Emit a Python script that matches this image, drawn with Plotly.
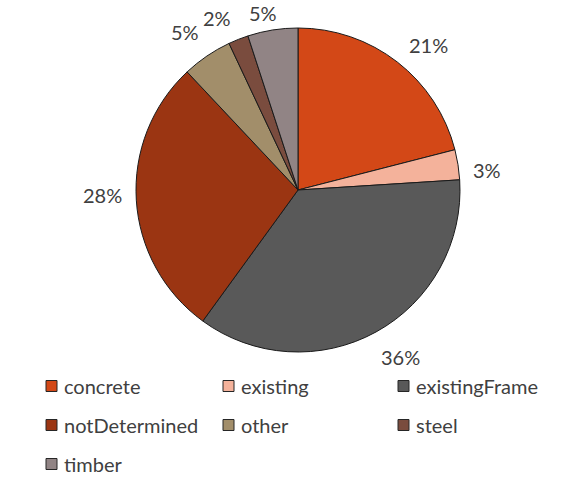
import math
import plotly.graph_objects as go

# Share of floor area by structural system (percent)
categories = ["concrete", "existing", "existingFrame", "notDetermined", "other", "steel", "timber"]
shares = [21, 3, 36, 28, 5, 2, 5]
colors = ["#D34817", "#F4B29B", "#595959", "#9B3512", "#A28E6A", "#7A4C3E", "#918485"]

# Label placement tweaks (degrees of rotation, radius in px) so small slices don't collide
label_shift_deg = [4.1, 3.0, -2.6, 2.1, -1.4, -3.6, -2.2]
label_radius = [195, 190, 196, 196, 194, 190, 180]

W, H = 563, 481
cx, cy, r = 298, 190, 162          # pie centre and radius in pixels
font_family = "Lato, 'Open Sans', sans-serif"
text_color = "#404040"
font_size = 20

fig = go.Figure(
    go.Pie(
        labels=categories,
        values=shares,
        sort=False,
        direction="clockwise",
        rotation=0,
        marker=dict(colors=colors, line=dict(color="#1a1a1a", width=1)),
        textinfo="none",
        hoverinfo="label+percent",
        showlegend=False,
        domain=dict(x=[(cx - r) / W, (cx + r) / W], y=[1 - (cy + r) / H, 1 - (cy - r) / H]),
    )
)

# Percentage labels outside each slice, around its mid angle
total = sum(shares)
cum = 0
annotations = []
shapes = []
for val, shift, lr in zip(shares, label_shift_deg, label_radius):
    mid = (cum + val / 2) / total * 2 * math.pi + math.radians(shift)
    cum += val
    px = cx + lr * math.sin(mid)
    py = cy - lr * math.cos(mid)
    annotations.append(
        dict(
            x=px / W, y=1 - py / H, xref="paper", yref="paper",
            text=f"{val}%", showarrow=False,
            font=dict(family=font_family, size=font_size, color=text_color),
            xanchor="center", yanchor="middle",
        )
    )

# Legend laid out as a three-column grid under the pie
col_x = [46, 223, 398]
row_y0, row_gap = 386, 39
sw = 11
for i, (name, col) in enumerate(zip(categories, colors)):
    x0 = col_x[i % 3]
    yc = row_y0 + (i // 3) * row_gap
    shapes.append(
        dict(
            type="rect", xref="paper", yref="paper",
            x0=x0 / W, x1=(x0 + sw) / W,
            y0=1 - (yc + sw / 2) / H, y1=1 - (yc - sw / 2) / H,
            fillcolor=col, line=dict(color="#262626", width=1),
        )
    )
    annotations.append(
        dict(
            x=(x0 + sw + 5) / W, y=1 - yc / H, xref="paper", yref="paper",
            text=name, showarrow=False,
            font=dict(family=font_family, size=font_size, color=text_color),
            xanchor="left", yanchor="middle",
        )
    )

fig.update_layout(
    width=W, height=H,
    margin=dict(l=0, r=0, t=0, b=0),
    paper_bgcolor="white",
    plot_bgcolor="white",
    annotations=annotations,
    shapes=shapes,
    showlegend=False,
)

fig.write_html("out.html")
